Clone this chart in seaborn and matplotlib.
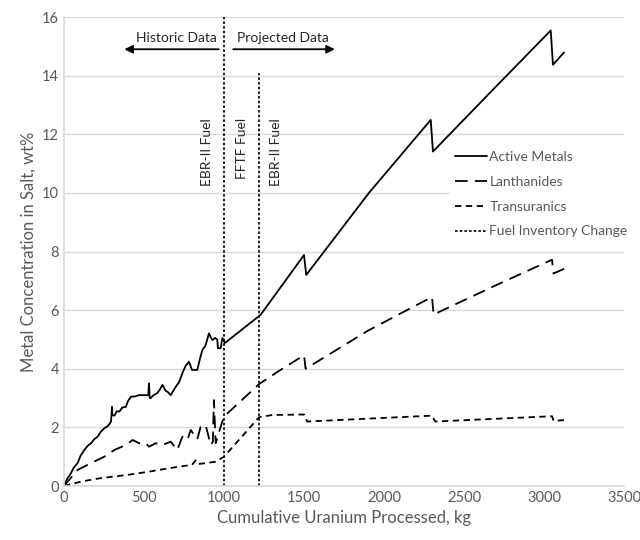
import matplotlib
matplotlib.use("Agg")
import matplotlib.pyplot as plt
import seaborn as sns
import pandas as pd

# Active metals (historic noisy part, then projected)
active_x = [0, 20, 44, 60, 85, 105, 127, 150, 169, 190, 210, 230, 252, 275, 294, 300, 302,
            315, 330, 346, 365, 387, 400, 419, 440, 469, 500, 527,
            531, 536, 542, 560, 583, 600, 615, 635, 650, 667, 698, 720, 740, 760, 781, 800,
            812, 833, 850, 865, 885, 906, 915, 927, 945, 958, 962, 979, 990, 1006,
            1229, 1500, 1514, 1906, 2292, 2306, 2677, 3042, 3056, 3125]
active_y = [0, 0.25, 0.44, 0.62, 0.78, 1.05, 1.23, 1.38, 1.46, 1.6, 1.68, 1.85, 1.97, 2.05, 2.2, 2.7, 2.42,
            2.4, 2.55, 2.54, 2.68, 2.7, 2.9, 3.05, 3.05, 3.1, 3.1, 3.1,
            3.5, 3.0, 3.0, 3.1, 3.17, 3.3, 3.45, 3.25, 3.2, 3.1, 3.38, 3.55, 3.85, 4.1, 4.24, 3.96,
            3.96, 3.96, 4.35, 4.64, 4.8, 5.21, 5.1, 4.98, 5.05, 5.0, 4.7, 4.7, 5.05, 4.88,
            5.84, 7.88, 7.2, 10.0, 12.49, 11.41, 13.5, 15.54, 14.37, 14.79]

# Lanthanides
lanth_x = [0, 85, 169, 252, 315, 387, 429, 469, 513, 531, 573, 615, 667, 708, 740, 771,
           792, 833, 854, 885, 917, 930, 937, 948, 979, 1000,
           1220, 1350, 1500, 1510, 1900, 2300, 2310, 2700, 3050, 3060, 3130]
lanth_y = [0, 0.55, 0.78, 1.0, 1.23, 1.4, 1.57, 1.46, 1.46, 1.34, 1.46, 1.4, 1.51, 1.23, 1.68, 1.57,
           1.91, 1.6, 2.02, 2.08, 1.4, 1.5, 2.93, 1.46, 2.02, 2.37,
           3.48, 3.95, 4.46, 4.0, 5.3, 6.45, 5.85, 6.85, 7.72, 7.25, 7.42]

# Transuranics
tru_x = [0, 106, 231, 398, 533, 594, 719, 800, 823, 840, 885, 948, 1000,
         1220, 1300, 1500, 1520, 2300, 2320, 3050, 3060, 3130]
tru_y = [0, 0.15, 0.27, 0.38, 0.49, 0.55, 0.66, 0.72, 0.88, 0.75, 0.78, 0.83, 1.0,
         2.35, 2.42, 2.44, 2.2, 2.4, 2.2, 2.38, 2.22, 2.25]

# Fuel inventory change markers
change_x = [1000, 1220]
change_top = [16, 14.1]

fuel_labels = ["EBR-II Fuel", "FFTF Fuel", "EBR-II Fuel"]
fuel_label_x = [894, 1112, 1328]

sns.set_theme(style="white")
plt.rcParams["font.family"] = ["Lato", "DejaVu Sans"]

grey = "#595959"
fig = plt.figure(figsize=(6.4, 5.4), dpi=100)
ax = fig.add_axes([0.1, 0.1, 0.875, 0.8685])

active = pd.DataFrame({"x": active_x, "y": active_y})
lanth = pd.DataFrame({"x": lanth_x, "y": lanth_y})
tru = pd.DataFrame({"x": tru_x, "y": tru_y})

sns.lineplot(data=active, x="x", y="y", ax=ax, color="black", lw=1.3,
             estimator=None, sort=False, label="Active Metals")
sns.lineplot(data=lanth, x="x", y="y", ax=ax, color="black", lw=1.3,
             estimator=None, sort=False, label="Lanthanides")
ax.lines[-1].set_dashes([7, 4])
sns.lineplot(data=tru, x="x", y="y", ax=ax, color="black", lw=1.3,
             estimator=None, sort=False, label="Transuranics")
ax.lines[-1].set_dashes([3.5, 2.5])

for i, (cx, top) in enumerate(zip(change_x, change_top)):
    ax.plot([cx, cx], [0, top], color="black", lw=1.2, dashes=[1.6, 1.2],
            label="Fuel Inventory Change" if i == 0 else None)

for lx, lt in zip(fuel_label_x, fuel_labels):
    ax.text(lx, 12.55, lt, rotation=90, ha="center", va="top", fontsize=10, color="#262626")

ax.text(700, 15.3, "Historic Data", ha="center", va="center", fontsize=10, color="#262626")
ax.text(1365, 15.3, "Projected Data", ha="center", va="center", fontsize=10, color="#262626")
ax.annotate("", xy=(360, 14.9), xytext=(985, 14.9),
            arrowprops=dict(arrowstyle="-|>", color="black", lw=1.3, mutation_scale=12))
ax.annotate("", xy=(1710, 14.9), xytext=(1040, 14.9),
            arrowprops=dict(arrowstyle="-|>", color="black", lw=1.3, mutation_scale=12))

ax.set_xlim(0, 3500)
ax.set_ylim(0, 16)
ax.set_xticks(range(0, 3501, 500))
ax.set_yticks(range(0, 17, 2))
ax.grid(axis="y", color="#d9d9d9", lw=1)
ax.set_axisbelow(True)
for s in ["top", "right"]:
    ax.spines[s].set_visible(False)
ax.spines["left"].set_color("#d9d9d9")
ax.spines["bottom"].set_color("#d9d9d9")
ax.tick_params(colors=grey, labelsize=10.5, length=0)
ax.set_xlabel("Cumulative Uranium Processed, kg", fontsize=12, color=grey)
ax.set_ylabel("Metal Concentration in Salt, wt%", fontsize=12, color=grey)

leg = ax.legend(loc="upper left", bbox_to_anchor=(0.689, 0.726), frameon=True,
                fontsize=10, handlelength=2.3, handletextpad=0.15, labelspacing=0.92,
                borderpad=0.4, borderaxespad=0)
leg.get_frame().set_facecolor("white")
leg.get_frame().set_edgecolor("white")
leg.get_frame().set_alpha(1)
for t in leg.get_texts():
    t.set_color(grey)

fig.savefig("out.png", dpi=100)
